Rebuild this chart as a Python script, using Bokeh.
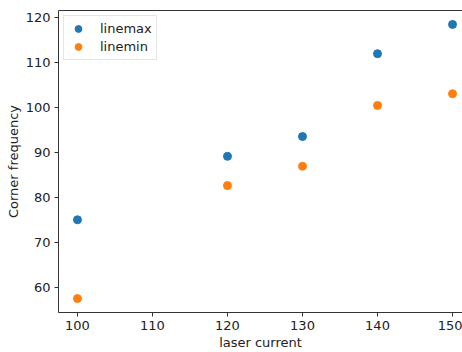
from bokeh.plotting import figure
from bokeh.models import ColumnDataSource, FixedTicker, LinearAxis, Range1d, Legend, LegendItem
from bokeh.embed import file_html
from bokeh.resources import INLINE

laser_current = [100, 120, 130, 140, 150]
linemax = [75.0, 89.1, 93.5, 111.9, 118.4]
linemin = [57.5, 82.6, 86.9, 100.4, 103.0]
x_ticks = [100, 110, 120, 130, 140, 150]
y_ticks = [60, 70, 80, 90, 100, 110, 120]

FONT = "DejaVu Sans"
AX = "#333333"

p = figure(width=462, height=352, output_backend="svg", toolbar_location=None,
           x_range=Range1d(97.47, 151.33), y_range=Range1d(54.4, 121.5),
           min_border_left=58, min_border_right=0, min_border_top=10, min_border_bottom=35)
p.outline_line_color = None
p.xgrid.visible = False
p.ygrid.visible = False

src_max = ColumnDataSource(dict(x=laser_current, y=linemax))
src_min = ColumnDataSource(dict(x=laser_current, y=linemin))
r1 = p.scatter("x", "y", source=src_max, size=8, color="#1f77b4")
r2 = p.scatter("x", "y", source=src_min, size=8, color="#ff7f0e")

for ax in (p.xaxis[0], p.yaxis[0]):
    ax.axis_line_color = AX
    ax.major_tick_line_color = AX
    ax.major_tick_out = 4
    ax.major_tick_in = 0
    ax.minor_tick_line_color = None
    ax.major_label_text_font = FONT
    ax.major_label_text_font_size = "13px"
    ax.major_label_text_color = "#222222"
    ax.axis_label_text_font = FONT
    ax.axis_label_text_font_size = "13px"
    ax.axis_label_text_font_style = "normal"
    ax.axis_label_text_color = "#222222"
    ax.major_label_standoff = 4
    ax.axis_label_standoff = 2

p.xaxis.ticker = FixedTicker(ticks=x_ticks)
p.yaxis.ticker = FixedTicker(ticks=y_ticks)
p.xaxis.axis_label = "laser current"
p.yaxis.axis_label = "Corner frequency"

top = LinearAxis(ticker=FixedTicker(ticks=[]), axis_line_color=AX,
                 major_tick_line_color=None, minor_tick_line_color=None,
                 major_label_text_font_size="0px")
p.add_layout(top, "above")

legend = Legend(items=[LegendItem(label="linemax", renderers=[r1]),
                       LegendItem(label="linemin", renderers=[r2])],
                location="top_left")
legend.label_text_font = FONT
legend.label_text_font_size = "13px"
legend.label_text_color = "#222222"
legend.border_line_color = "#cccccc"
legend.background_fill_alpha = 0.8
legend.glyph_width = 20
legend.glyph_height = 17
legend.label_height = 17
legend.spacing = 1
legend.padding = 4
legend.margin = 5
legend.label_standoff = 12
p.add_layout(legend, "center")

open("out.html", "w").write(file_html(p, INLINE))
